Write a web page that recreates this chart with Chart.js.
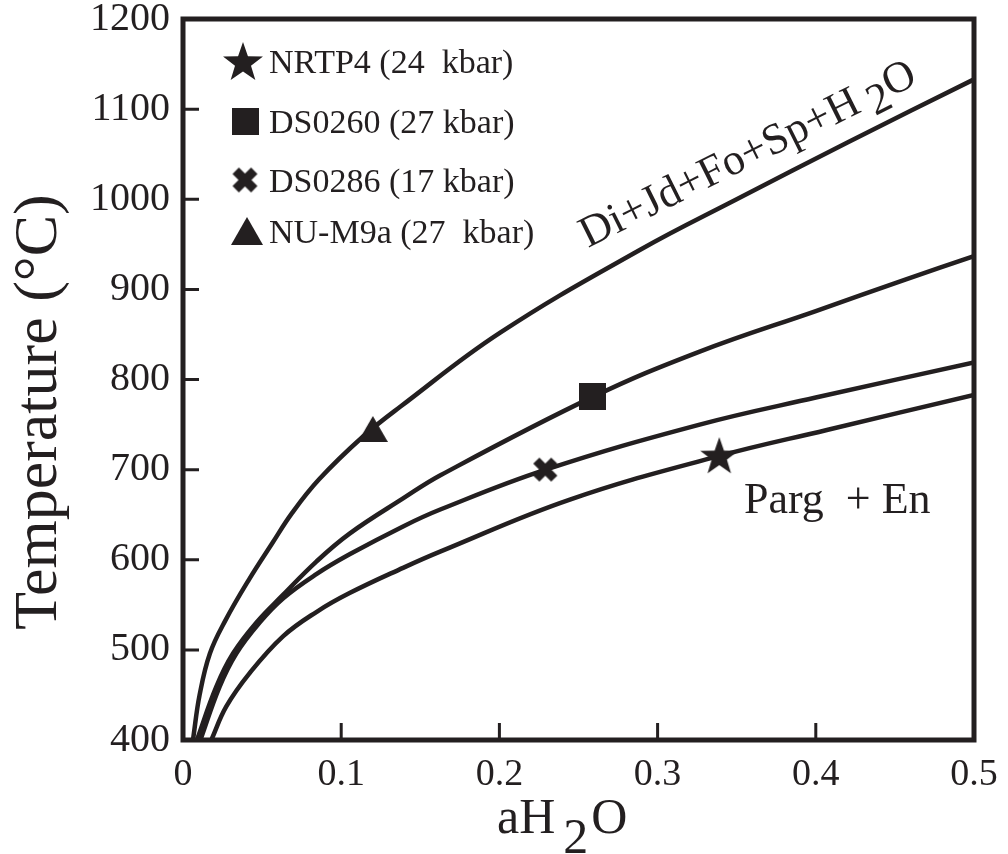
<!DOCTYPE html>
<html>
<head>
<meta charset="utf-8">
<script src="https://cdn.jsdelivr.net/npm/chart.js@4.4.1/dist/chart.umd.min.js"></script>
<style>
  body { margin: 0; background: #fff; }
</style>
</head>
<body>
<canvas id="phaseChart" width="1008" height="854"></canvas>
<script>
// tick values
const xTicks = [0, 0.1, 0.2, 0.3, 0.4, 0.5];
const yTicks = [400, 500, 600, 700, 800, 900, 1000, 1100, 1200];

// reaction curves: aH2O and temperature (°C)
const curve1X = [0.0063, 0.0105, 0.017, 0.0269, 0.0417, 0.0563, 0.069, 0.0859, 0.114, 0.1375, 0.2005, 0.289, 0.35, 0.42, 0.5];
const curve1T = [400, 450, 496, 533, 578, 618, 652, 689, 737, 770, 852, 944, 1000, 1063, 1133];

const curve2X = [0.0088, 0.021, 0.0316, 0.0462, 0.0632, 0.0843, 0.1053, 0.1391, 0.163, 0.2594, 0.3266, 0.4, 0.457, 0.5];
const curve2T = [400, 459, 496, 530, 561, 598, 629, 668, 694, 781, 831, 876, 911, 937];

const curve3X = [0.011, 0.0231, 0.0337, 0.0483, 0.0632, 0.0843, 0.1053, 0.1391, 0.163, 0.2293, 0.3266, 0.4, 0.5];
const curve3T = [400, 459, 496, 530, 557, 584, 606, 637, 656, 700, 750, 780, 819];

const curve4X = [0.0179, 0.0273, 0.042, 0.0632, 0.0843, 0.1053, 0.1391, 0.1625, 0.245, 0.3386, 0.407, 0.5];
const curve4T = [400, 437, 474, 515, 542, 563, 591, 609, 667, 715, 744, 783];

// samples
const sampleNames = ['NRTP4 (24  kbar)', 'DS0260 (27 kbar)', 'DS0286 (17 kbar)', 'NU-M9a (27  kbar)'];
const sampleMarks = ['star', 'square', 'cross', 'triangle'];
const sampleX = [0.339, 0.259, 0.229, 0.120];
const sampleT = [715, 781, 700, 744];

const ink = '#231f20';
const serif = "'Liberation Serif', 'Times New Roman', serif";

// filled markers (chart.js has no filled 5-point star / bold X)
function makeMarker(kind, size) {
    const c = document.createElement('canvas');
    c.width = size;
    c.height = size;
    const g = c.getContext('2d');
    const m = size / 2;
    g.fillStyle = ink;
    g.strokeStyle = ink;
    if (kind === 'cross') {
        g.lineWidth = size * 0.29;
        g.beginPath();
        g.moveTo(size * 0.2, size * 0.2);
        g.lineTo(size * 0.8, size * 0.8);
        g.moveTo(size * 0.8, size * 0.2);
        g.lineTo(size * 0.2, size * 0.8);
        g.stroke();
        return c;
    }
    g.beginPath();
    if (kind === 'star') {
        for (let i = 0; i < 10; i++) {
            const r = i % 2 === 0 ? m : m * 0.4;
            const a = -Math.PI / 2 + i * Math.PI / 5;
            g.lineTo(m + r * Math.cos(a), m * 1.05 + r * Math.sin(a));
        }
    } else if (kind === 'square') {
        g.rect(0, 0, size, size);
    } else {
        g.moveTo(m, 1);
        g.lineTo(size, size - 3);
        g.lineTo(0, size - 3);
    }
    g.closePath();
    g.fill();
    return c;
}

const markerSizes = { star: 40, square: 27, cross: 30, triangle: 30 };
const legendSizes = { star: 42, square: 27, cross: 31, triangle: 32 };
const plotMarkers = sampleMarks.map(k => makeMarker(k, markerSizes[k]));
const legendMarkers = sampleMarks.map(k => makeMarker(k, legendSizes[k]));

function curveSet(xs, ts) {
    return {
        data: xs.map((x, i) => ({ x: x, y: ts[i] })),
        borderColor: ink,
        borderWidth: 4.5,
        pointRadius: 0,
        tension: 0.4,
        fill: false,
        order: 1
    };
}

const datasets = [
    curveSet(curve1X, curve1T),
    curveSet(curve2X, curve2T),
    curveSet(curve3X, curve3T),
    curveSet(curve4X, curve4T)
];
sampleNames.forEach((name, i) => {
    datasets.push({
        label: name,
        data: [{ x: sampleX[i], y: sampleT[i] }],
        showLine: false,
        pointStyle: plotMarkers[i],
        pointRadius: 12,
        order: 0
    });
});

// frame, inner ticks, titles, labels, legend
const decor = {
    id: 'decor',
    afterDraw(chart) {
        const ctx = chart.ctx;
        const a = chart.chartArea;
        const x = chart.scales.x;
        const y = chart.scales.y;
        ctx.save();
        ctx.strokeStyle = ink;
        ctx.fillStyle = ink;

        ctx.lineWidth = 5;
        ctx.strokeRect(a.left, a.top, a.right - a.left, a.bottom - a.top);

        ctx.lineWidth = 3;
        ctx.beginPath();
        yTicks.slice(1, -1).forEach(v => {
            const py = y.getPixelForValue(v);
            ctx.moveTo(a.left, py);
            ctx.lineTo(a.left + 16, py);
        });
        xTicks.slice(1, -1).forEach(v => {
            const px = x.getPixelForValue(v);
            ctx.moveTo(px, a.bottom);
            ctx.lineTo(px, a.bottom - 17);
        });
        ctx.stroke();

        // y title
        ctx.save();
        ctx.translate(56, 412);
        ctx.rotate(-Math.PI / 2);
        ctx.font = '62px ' + serif;
        ctx.textAlign = 'center';
        ctx.textBaseline = 'alphabetic';
        ctx.fillText('Temperature (°C)', 0, 0);
        ctx.restore();

        // x title aH2O
        ctx.font = '50px ' + serif;
        ctx.textAlign = 'left';
        ctx.textBaseline = 'alphabetic';
        let tx = 497;
        ctx.fillText('aH', tx, 833);
        tx += ctx.measureText('aH').width + 8;
        ctx.fillText('2', tx, 853);
        tx += ctx.measureText('2').width + 3;
        ctx.fillText('O', tx, 833);

        // reaction label along the top curve
        ctx.save();
        ctx.translate(588, 248);
        ctx.rotate(-26.5 * Math.PI / 180);
        ctx.font = '44px ' + serif;
        let rx = 0;
        ctx.fillText('Di+Jd+Fo+Sp+H', rx, 0);
        rx += ctx.measureText('Di+Jd+Fo+Sp+H').width + 9;
        ctx.fillText('2', rx, 10);
        rx += ctx.measureText('2').width;
        ctx.fillText('O', rx, 0);
        ctx.restore();

        ctx.font = '44px ' + serif;
        ctx.fillText('Parg  + En', 744, 513);

        // legend
        const rowMarker = [[243, 62], [245, 121], [245, 180], [247, 232]];
        const rowBase = [73, 133, 192, 243];
        ctx.font = '34px ' + serif;
        sampleNames.forEach((name, i) => {
            const img = legendMarkers[i];
            ctx.drawImage(img, rowMarker[i][0] - img.width / 2, rowMarker[i][1] - img.height / 2);
            ctx.fillText(name, 269, rowBase[i]);
        });
        ctx.restore();
    }
};

new Chart(document.getElementById('phaseChart'), {
    type: 'line',
    data: { datasets: datasets },
    options: {
        responsive: false,
        animation: false,
        events: [],
        layout: { padding: { top: 19, right: 34, left: 0, bottom: 0 } },
        scales: {
            x: {
                type: 'linear',
                min: 0,
                max: 0.5,
                afterBuildTicks: s => { s.ticks = xTicks.map(v => ({ value: v })); },
                afterFit: s => { s.height = 114; s.paddingLeft = 0; s.paddingRight = 0; },
                grid: { display: false, drawTicks: false },
                border: { display: false },
                ticks: {
                    color: ink,
                    padding: 12,
                    maxRotation: 0,
                    font: { family: serif, size: 38 },
                    callback: v => String(v)
                }
            },
            y: {
                type: 'linear',
                min: 400,
                max: 1200,
                afterBuildTicks: s => { s.ticks = yTicks.map(v => ({ value: v })); },
                afterFit: s => { s.width = 183; s.paddingTop = 0; s.paddingBottom = 0; },
                grid: { display: false, drawTicks: false },
                border: { display: false },
                ticks: {
                    color: ink,
                    padding: 13,
                    font: { family: serif, size: 40 },
                    callback: v => String(v)
                }
            }
        },
        plugins: {
            legend: { display: false },
            tooltip: { enabled: false }
        }
    },
    plugins: [decor]
});
</script>
</body>
</html>
